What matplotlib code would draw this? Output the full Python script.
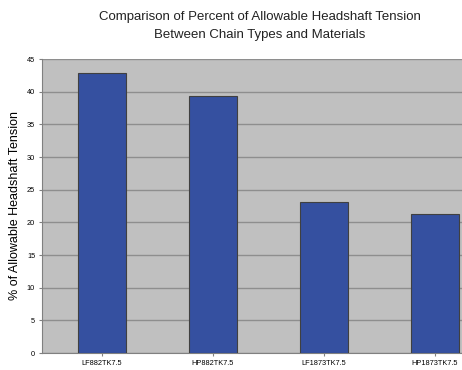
import matplotlib
matplotlib.use("Agg")
import matplotlib.pyplot as plt

# chain types
chains = ["LF882TK7.5", "HP882TK7.5", "LF1873TK7.5", "HP1873TK7.5"]
# percent of allowable headshaft tension
tension = [42.8, 39.3, 23.1, 21.3]

plt.rcParams["font.family"] = ["Liberation Sans", "DejaVu Sans"]

fig = plt.figure(figsize=(4.62, 3.70), dpi=100)
fig.patch.set_facecolor("white")

# plot area runs off the right edge like the original
ax = fig.add_axes([42 / 462, 17 / 370, 446 / 462, 294 / 370])
ax.set_facecolor("#c0c0c0")

ax.bar(range(len(chains)), tension, width=0.43, color="#3550a0",
       edgecolor="#404040", linewidth=0.8, zorder=3)

ax.set_xlim(-0.54, 3.48)
ax.set_ylim(0, 45)
ax.set_yticks(range(0, 46, 5))
ax.set_xticks(range(len(chains)))
ax.set_xticklabels(chains)
ax.yaxis.grid(True, color="#8e8e8e", linewidth=1.0, zorder=1)

for s in ["top", "right"]:
    ax.spines[s].set_visible(False)
ax.spines["left"].set_color("#808080")
ax.spines["bottom"].set_color("#808080")
ax.tick_params(axis="both", labelsize=5.3, length=2, color="#808080", pad=3)

ax.set_ylabel("% of Allowable Headshaft Tension", fontsize=9, labelpad=4)

fig.text(260 / 462, 1 - 17 / 370, "Comparison of Percent of Allowable Headshaft Tension",
         ha="center", va="center", fontsize=9.5, color="#222222")
fig.text(260 / 462, 1 - 35 / 370, "Between Chain Types and Materials",
         ha="center", va="center", fontsize=9.5, color="#222222")

fig.savefig("out.png", dpi=100)
